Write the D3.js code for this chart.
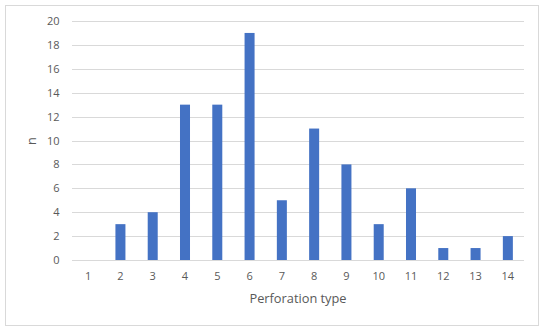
<!DOCTYPE html>
<html><head><meta charset="utf-8">
<script src="https://cdn.jsdelivr.net/npm/d3@7"></script>
<style>body{margin:0;background:#fff}svg{display:block}</style>
</head><body>
<svg id="c" width="550" height="334"></svg>
<script>
const categories = ["1","2","3","4","5","6","7","8","9","10","11","12","13","14"];
const values = [0,3,4,13,13,19,5,11,8,3,6,1,1,2];
const yTicks = [0,2,4,6,8,10,12,14,16,18,20];
const xTitle = "Perforation type";
const yTitle = "n";

const svg = d3.select("#c");
const font = "'Open Sans', sans-serif";
svg.append("rect").attr("x",5.5).attr("y",5.5).attr("width",533).attr("height",320)
  .attr("fill","#fff").attr("stroke","#d9d9d9").attr("stroke-width",1);

const x = d3.scaleBand().domain(categories).range([72,524]).paddingInner(0.69).paddingOuter(0.345);
const y = d3.scaleLinear().domain([0,20]).range([260,21]);

const g = svg.append("g");
g.selectAll("line.grid").data(yTicks).join("line")
  .attr("x1",72).attr("x2",524)
  .attr("y1",d=>Math.round(y(d))+0.5).attr("y2",d=>Math.round(y(d))+0.5)
  .attr("stroke","#d9d9d9").attr("stroke-width",1);

const yAxis = d3.axisLeft(y).tickValues(yTicks).tickSize(0).tickPadding(0);
svg.append("g").attr("transform","translate(59.5,0)").call(yAxis)
  .call(s=>s.select(".domain").remove())
  .call(s=>s.selectAll("text").attr("font-family",font).attr("font-size",11).attr("fill","#595959"));

g.selectAll("rect.bar").data(values).join("rect")
  .attr("x",(d,i)=>x(categories[i])).attr("width",x.bandwidth())
  .attr("y",d=>y(d)).attr("height",d=>y(0)-y(d))
  .attr("fill","#4472c4");

const xAxis = d3.axisBottom(x).tickSize(0).tickPadding(0);
svg.append("g").attr("transform","translate(0,272)").call(xAxis)
  .call(s=>s.select(".domain").remove())
  .call(s=>s.selectAll("text").attr("font-family",font).attr("font-size",11).attr("fill","#595959"));

svg.append("text").attr("x",298).attr("y",303).attr("text-anchor","middle")
  .attr("font-family",font).attr("font-size",12.8).attr("fill","#595959").text(xTitle);
svg.append("text").attr("transform","translate(36,141) rotate(-90)").attr("text-anchor","middle")
  .attr("font-family",font).attr("font-size",12.8).attr("fill","#595959").text(yTitle);
</script>
</body></html>
